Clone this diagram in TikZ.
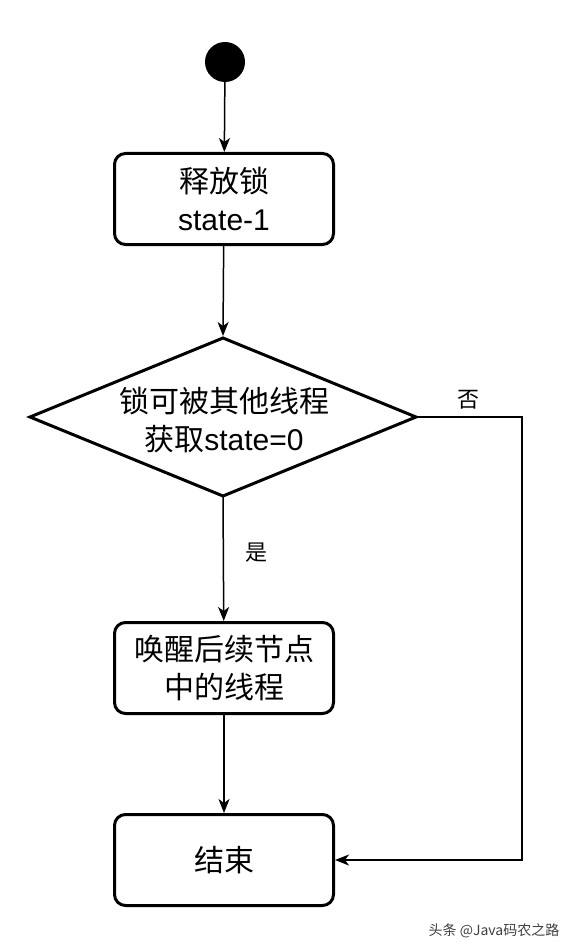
\documentclass[tikz,border=0pt]{standalone}
\usepackage{fontspec}
\setmainfont{Liberation Sans}
\newfontfamily\cjk{Noto Sans CJK SC}
\usetikzlibrary{shapes.geometric,arrows.meta}
\begin{document}
\begin{tikzpicture}[x=1pt,y=-1pt,
  stepbox/.style={draw=black,line width=3pt,rounded corners=11pt,minimum width=219pt,minimum height=91pt,align=center,font=\fontsize{30}{38}\selectfont,fill=white},
  dectext/.style={align=center,font=\fontsize{30}{38}\selectfont,inner sep=0pt},
  decline/.style={draw=black,line width=3pt,line join=miter},
  conn/.style={draw=black,line width=1.5pt,-{Stealth[length=14pt,width=11pt,inset=4pt]}},
  lbl/.style={font=\cjk\fontsize{22}{26}\selectfont}
]
\useasboundingbox[fill=white] (0,0) rectangle (580,952);
\node[circle,fill=black,minimum size=40pt,inner sep=0pt] (start) at (225,62) {};
\node[stepbox] (b1) at (224,199) {{\cjk 释放锁}\\state-1};
\coordinate (dt) at (223,338);
\coordinate (dl) at (30,417);
\coordinate (dr) at (416,417);
\coordinate (db) at (223,496);
\draw[decline] (dt) -- (dr) -- (db) -- (dl) -- cycle;
\node[dectext] (d) at (224,420) {{\cjk 锁可被其他线程}\\{\cjk 获取}state=0};
\node[stepbox] (b2) at (224,668) {{\cjk 唤醒后续节点}\\{\cjk 中的线程}};
\node[stepbox] (b3) at (224,860) {\cjk 结束};
\coordinate (r) at (522,417);
\coordinate (dtop) at (223,336);
\draw[conn] (start) -- (b1);
\draw[conn] (b1) -- (dtop);
\draw[conn] (db) -- (b2);
\draw[conn] (b2) -- (b3);
\draw[conn] (dr) -- (r) |- (b3.east);
\node[lbl] (no) at (468,400) {否};
\node[lbl] (yes) at (256,553) {是};
\node[font=\cjk\fontsize{14}{16}\selectfont,text=black!75] (wm) at (494,931) {头条 @Java码农之路};
\end{tikzpicture}
\end{document}
